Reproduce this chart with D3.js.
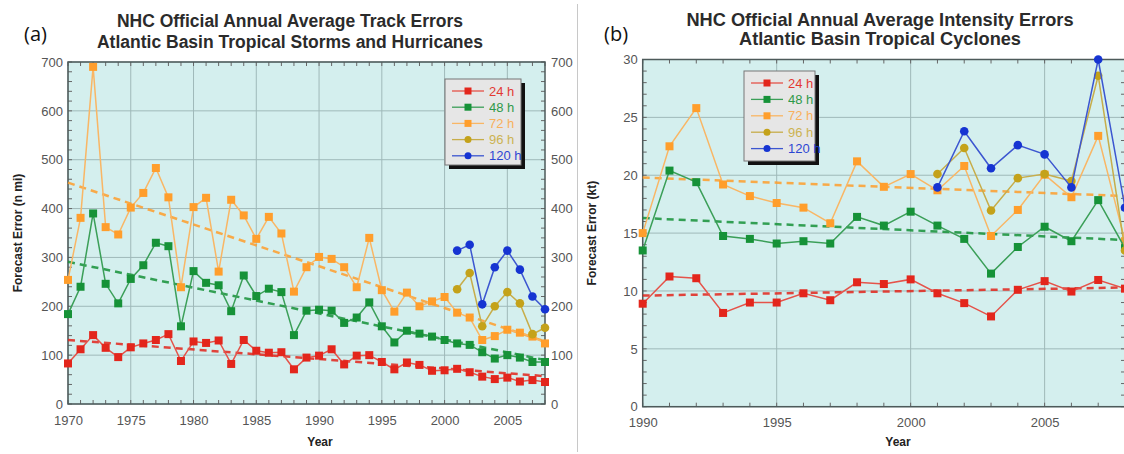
<!DOCTYPE html>
<html>
<head>
  <meta charset="utf-8" />
  <title>NHC forecast errors</title>
  <script src="https://cdn.jsdelivr.net/npm/d3@7"></script>
  <style>
    body { margin: 0; background: #fff; }
    svg text { font-family: "Liberation Sans", Arial, sans-serif; }
  </style>
</head>
<body>
  <svg id="chart" width="1124" height="454"></svg>
  <script>
    // ---- panel (a): track errors, n mi ----
    var trackYears = d3.range(1970, 2009);
    var track24 = [83, 112, 141, 115, 96, 116, 124, 131, 143, 88, 128, 125, 130, 82, 131, 109, 105, 106, 71, 95,
      99, 112, 81, 99, 100, 86, 71, 85, 80, 68, 69, 72, 65, 56, 51, 54, 46, 49, 45];
    var track48 = [184, 240, 390, 246, 206, 256, 284, 330, 323, 159, 272, 248, 243, 190, 263, 221, 236, 229, 141, 191,
      193, 191, 166, 177, 208, 159, 126, 150, 144, 138, 131, 124, 121, 106, 93, 100, 95, 86, 86];
    var track72 = [254, 381, 690, 362, 347, 402, 432, 483, 423, 239, 403, 422, 271, 418, 386, 338, 383, 349, 230, 280,
      301, 297, 280, 239, 340, 233, 189, 228, 200, 210, 219, 187, 177, 131, 139, 152, 146, 138, 124];
    var track96Years = d3.range(2001, 2009);
    var track96 = [235, 268, 159, 200, 229, 206, 143, 156];
    var track120 = [314, 326, 204, 280, 314, 275, 220, 194];
    var trackTrend = { "24 h": [131, 57], "48 h": [291, 90], "72 h": [453, 128] };
    var trackTicksY = [0, 100, 200, 300, 400, 500, 600, 700];
    var trackTicksX = [1970, 1975, 1980, 1985, 1990, 1995, 2000, 2005];

    // ---- panel (b): intensity errors, kt ----
    var intYears = d3.range(1990, 2009);
    var int24 = [8.9, 11.25, 11.1, 8.1, 9.0, 9.0, 9.8, 9.2, 10.75, 10.6, 11.0, 9.8, 8.95, 7.8, 10.1, 10.85, 9.95, 10.95, 10.2];
    var int48 = [13.5, 20.4, 19.4, 14.75, 14.5, 14.1, 14.3, 14.1, 16.4, 15.65, 16.85, 15.65, 14.5, 11.5, 13.8, 15.55, 14.3, 17.85, 13.7];
    var int72 = [15.0, 22.5, 25.8, 19.2, 18.2, 17.6, 17.2, 15.85, 21.2, 19.0, 20.1, 18.7, 20.8, 14.75, 17.0, 20.05, 18.1, 23.4, 14.3];
    var int96 = [20.1, 22.35, 16.95, 19.75, 20.1, 19.5, 28.6, 13.5];
    var int120 = [18.95, 23.8, 20.6, 22.6, 21.8, 18.95, 30.0, 17.2];
    var intTrend = { "24 h": [9.6, 10.3], "48 h": [16.3, 14.4], "72 h": [19.8, 18.2] };
    var intTicksY = [0, 5, 10, 15, 20, 25, 30];
    var intTicksX = [1990, 1995, 2000, 2005];

    var seriesNames = ["24 h", "48 h", "72 h", "96 h", "120 h"];
    var colors = { "24 h": "#e3261c", "48 h": "#169238", "72 h": "#ff9e2c", "96 h": "#c4a21a", "120 h": "#1634d2" };
    var lineColors = { "24 h": "#e5534a", "48 h": "#3b9f58", "72 h": "#f9b665", "96 h": "#c7ad4a", "120 h": "#3c56d0" };

    var svg = d3.select("#chart");

    // separator between the panels
    svg.append("line").attr("x1", 577.5).attr("x2", 577.5).attr("y1", 4).attr("y2", 452)
      .attr("stroke", "#c8c8c8").attr("stroke-width", 1);

    function drawPanel(o) {
      var g = svg.append("g");
      var x = d3.scaleLinear().domain(o.xDomain).range([o.left, o.right]);
      var y = d3.scaleLinear().domain(o.yDomain).range([o.bottom, o.top]);

      g.append("text").attr("x", o.labelX).attr("y", 41).text(o.label)
        .style("font-family", "'Open Sans', sans-serif").style("font-size", "20px").attr("fill", "#111");
      o.title.forEach(function (t, i) {
        g.append("text").attr("x", o.titleX).attr("y", o.titleY[i]).attr("text-anchor", "middle")
          .style("font-size", o.titleSize + "px").style("font-weight", "bold").attr("fill", "#2b2b2b").text(t);
      });

      g.append("rect").attr("x", o.left).attr("y", o.top).attr("width", o.right - o.left)
        .attr("height", o.bottom - o.top).attr("fill", "#d4efee");

      // grid
      g.append("g").selectAll("line").data(o.ticksX).enter().append("line")
        .attr("x1", x).attr("x2", x).attr("y1", o.top).attr("y2", o.bottom)
        .attr("stroke", "#9fb9b9").attr("stroke-width", 1);
      g.append("g").selectAll("line").data(o.ticksY).enter().append("line")
        .attr("x1", o.left).attr("x2", o.right).attr("y1", y).attr("y2", y)
        .attr("stroke", "#9fb9b9").attr("stroke-width", 1);

      // axes with inward ticks
      var minorX = d3.range(o.xDomain[0], o.xDomain[1] + 1);
      var minorY = d3.range(o.yDomain[0], o.yDomain[1] + 0.001, o.minorStep);
      var tickColor = "#666";
      var ax = g.append("g").attr("class", "ticks");
      minorX.forEach(function (v) {
        ax.append("line").attr("x1", x(v)).attr("x2", x(v)).attr("y1", o.bottom).attr("y2", o.bottom - 4).attr("stroke", tickColor);
        ax.append("line").attr("x1", x(v)).attr("x2", x(v)).attr("y1", o.top).attr("y2", o.top + 4).attr("stroke", tickColor);
      });
      minorY.forEach(function (v) {
        ax.append("line").attr("x1", o.left).attr("x2", o.left + 4).attr("y1", y(v)).attr("y2", y(v)).attr("stroke", tickColor);
        ax.append("line").attr("x1", o.right).attr("x2", o.right - 4).attr("y1", y(v)).attr("y2", y(v)).attr("stroke", tickColor);
      });

      var xAxis = g.append("g").attr("transform", "translate(0," + (o.bottom + 6) + ")")
        .call(d3.axisBottom(x).tickValues(o.ticksX).tickFormat(d3.format("d")).tickSize(0));
      var yAxis = g.append("g").attr("transform", "translate(" + (o.left - 2) + ",0)")
        .call(d3.axisLeft(y).tickValues(o.ticksY).tickSize(0));
      var axes = [xAxis, yAxis];
      if (o.rightAxis) {
        axes.push(g.append("g").attr("transform", "translate(" + (o.right + 3) + ",0)")
          .call(d3.axisRight(y).tickValues(o.ticksY).tickSize(0)));
      }
      axes.forEach(function (a) {
        a.select(".domain").remove();
        a.selectAll("text").style("font-size", "13px").attr("fill", "#555")
          .style("font-family", "'Liberation Sans', Arial, sans-serif");
      });
      xAxis.selectAll("text").attr("dy", "0.9em");

      g.append("rect").attr("x", o.left).attr("y", o.top).attr("width", o.right - o.left)
        .attr("height", o.bottom - o.top).attr("fill", "none").attr("stroke", "#4d5a5a").attr("stroke-width", 1.5);

      // axis titles
      g.append("text").attr("transform", "translate(" + o.yTitleX + "," + ((o.top + o.bottom) / 2) + ") rotate(-90)")
        .attr("text-anchor", "middle").style("font-size", "12px").style("font-weight", "bold").attr("fill", "#222")
        .text(o.yTitle);
      g.append("text").attr("x", o.xTitleX).attr("y", 446).attr("text-anchor", "middle")
        .style("font-size", "12px").style("font-weight", "bold").attr("fill", "#222").text("Year");

      var clip = "clip-" + o.id;
      svg.append("clipPath").attr("id", clip).append("rect")
        .attr("x", o.left - 6).attr("y", o.top - 6).attr("width", o.right - o.left + 12).attr("height", o.bottom - o.top + 12);
      var plot = g.append("g").attr("clip-path", "url(#" + clip + ")");

      // trend lines
      Object.keys(o.trend).forEach(function (k) {
        plot.append("line")
          .attr("x1", x(o.xDomain[0])).attr("x2", x(o.xDomain[1]))
          .attr("y1", y(o.trend[k][0])).attr("y2", y(o.trend[k][1]))
          .attr("stroke", colors[k]).attr("stroke-width", 2.5).attr("stroke-dasharray", "7,5")
          .attr("opacity", 0.85);
      });

      var line = d3.line().x(function (d) { return x(d[0]); }).y(function (d) { return y(d[1]); });
      o.series.forEach(function (s) {
        var pts = s.values.map(function (v, i) { return [s.years[i], v]; });
        plot.append("path").datum(pts).attr("d", line).attr("fill", "none")
          .attr("stroke", lineColors[s.name]).attr("stroke-width", 1.5);
        var round = s.name === "96 h" || s.name === "120 h";
        pts.forEach(function (p) {
          if (round) {
            plot.append("circle").attr("cx", x(p[0])).attr("cy", y(p[1])).attr("r", 4.3).attr("fill", colors[s.name]);
          } else {
            plot.append("rect").attr("x", x(p[0]) - 4).attr("y", y(p[1]) - 4).attr("width", 8).attr("height", 8)
              .attr("fill", colors[s.name]);
          }
        });
      });

      // legend
      var L = o.legend;
      var lg = g.append("g");
      lg.append("rect").attr("x", L.x + 4).attr("y", L.y + 4).attr("width", L.w).attr("height", L.h).attr("fill", "#111");
      lg.append("rect").attr("x", L.x).attr("y", L.y).attr("width", L.w).attr("height", L.h)
        .attr("fill", "#e6e6e6").attr("stroke", "#777").attr("stroke-width", 1);
      seriesNames.forEach(function (n, i) {
        var yy = L.y + 12 + i * L.step;
        lg.append("line").attr("x1", L.x + 7).attr("x2", L.x + 39).attr("y1", yy).attr("y2", yy)
          .attr("stroke", lineColors[n]).attr("stroke-width", 1.3);
        if (n === "96 h" || n === "120 h") {
          lg.append("circle").attr("cx", L.x + 23).attr("cy", yy).attr("r", 3.5).attr("fill", colors[n]);
        } else {
          lg.append("rect").attr("x", L.x + 19.5).attr("y", yy - 3.5).attr("width", 7).attr("height", 7).attr("fill", colors[n]);
        }
        lg.append("text").attr("x", L.x + 44).attr("y", yy + 4.5).style("font-size", "13px")
          .attr("fill", colors[n]).attr("opacity", n === "72 h" || n === "96 h" ? 0.75 : 0.9).text(n);
      });
    }

    drawPanel({
      id: "a", label: "(a)", labelX: 24, titleX: 290, titleY: [27, 48], titleSize: 17.5,
      title: ["NHC Official Annual Average Track Errors", "Atlantic Basin Tropical Storms and Hurricanes"],
      left: 68, right: 545, top: 62, bottom: 404,
      xDomain: [1970, 2008], yDomain: [0, 700], minorStep: 20,
      ticksX: trackTicksX, ticksY: trackTicksY, rightAxis: true,
      yTitle: "Forecast Error (n mi)", yTitleX: 22, xTitleX: 320,
      trend: trackTrend,
      series: [
        { name: "72 h", years: trackYears, values: track72 },
        { name: "48 h", years: trackYears, values: track48 },
        { name: "24 h", years: trackYears, values: track24 },
        { name: "96 h", years: track96Years, values: track96 },
        { name: "120 h", years: track96Years, values: track120 }
      ],
      legend: { x: 445, y: 79, w: 76, h: 86, step: 16.2 }
    });

    drawPanel({
      id: "b", label: "(b)", labelX: 604, titleX: 880, titleY: [26, 45], titleSize: 18.2,
      title: ["NHC Official Annual Average Intensity Errors", "Atlantic Basin Tropical Cyclones"],
      left: 642.7, right: 1125, top: 59.5, bottom: 406.7,
      xDomain: [1990, 2008], yDomain: [0, 30], minorStep: 1,
      ticksX: intTicksX, ticksY: intTicksY, rightAxis: false,
      yTitle: "Forecast Error (kt)", yTitleX: 596, xTitleX: 898,
      trend: intTrend,
      series: [
        { name: "72 h", years: intYears, values: int72 },
        { name: "48 h", years: intYears, values: int48 },
        { name: "24 h", years: intYears, values: int24 },
        { name: "96 h", years: track96Years, values: int96 },
        { name: "120 h", years: track96Years, values: int120 }
      ],
      legend: { x: 744, y: 71, w: 71, h: 90, step: 16.4 }
    });
  </script>
</body>
</html>
